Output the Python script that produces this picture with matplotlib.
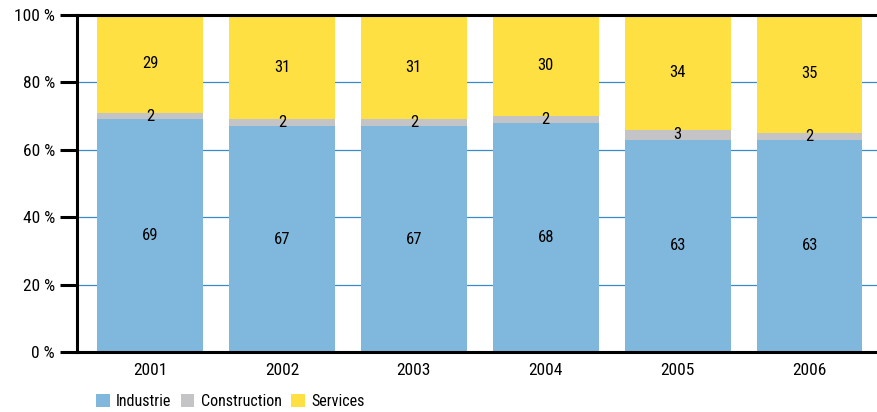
import matplotlib
matplotlib.use("Agg")
import matplotlib.pyplot as plt
from matplotlib.patches import Patch

years = ["2001", "2002", "2003", "2004", "2005", "2006"]
industrie = [69, 67, 67, 68, 63, 63]
construction = [2, 2, 2, 2, 3, 2]
services = [29, 31, 31, 30, 34, 35]

series_names = ["Industrie", "Construction", "Services"]
colors = ["#80b8dd", "#c4c4c6", "#ffe043"]

plt.rcParams["font.family"] = ["Roboto Condensed", "Liberation Sans Narrow", "Roboto", "DejaVu Sans"]

fig = plt.figure(figsize=(8.77, 4.12), dpi=100)
ax = fig.add_axes([0.0878, 0.1456, 0.9122, 0.818])

x = list(range(len(years)))
bottom = [0] * len(years)
for vals, col in zip([industrie, construction, services], colors):
    ax.bar(x, vals, width=0.8, bottom=bottom, color=col, zorder=2)
    for xi, b, v in zip(x, bottom, vals):
        ax.text(xi, b + v / 2, str(v), ha="center", va="center",
                fontsize=12, color="black", zorder=4)
    bottom = [b + v for b, v in zip(bottom, vals)]

ax.set_xlim(-0.553, 5.51)
ax.set_ylim(0, 100)

for g in [20, 40, 60, 80]:
    ax.axhline(g, color="#3a8cc8", lw=0.9, zorder=1)
for g in [0, 100]:
    ax.axhline(g, color="black", lw=2.2, zorder=3, clip_on=False)

for s in ["top", "right", "bottom"]:
    ax.spines[s].set_visible(False)
ax.spines["left"].set_linewidth(2.2)
ax.spines["left"].set_zorder(3)

ax.set_yticks([0, 20, 40, 60, 80, 100])
ax.set_yticklabels([f"{v} %" for v in [0, 20, 40, 60, 80, 100]], fontsize=12.5)
ax.tick_params(axis="y", length=12, width=2.2, pad=4)
ax.set_xticks(x)
ax.set_xticklabels(years, fontsize=12.5)
ax.tick_params(axis="x", length=0, pad=8)

handles = [Patch(facecolor=c, edgecolor="none") for c in colors]
fig.legend(handles, series_names, loc="lower left", bbox_to_anchor=(0.093, -0.028),
           ncol=3, frameon=False, fontsize=11.5, handlelength=0.85,
           handleheight=0.85, handletextpad=0.4, columnspacing=0.6)

fig.savefig("out.png", dpi=100)
